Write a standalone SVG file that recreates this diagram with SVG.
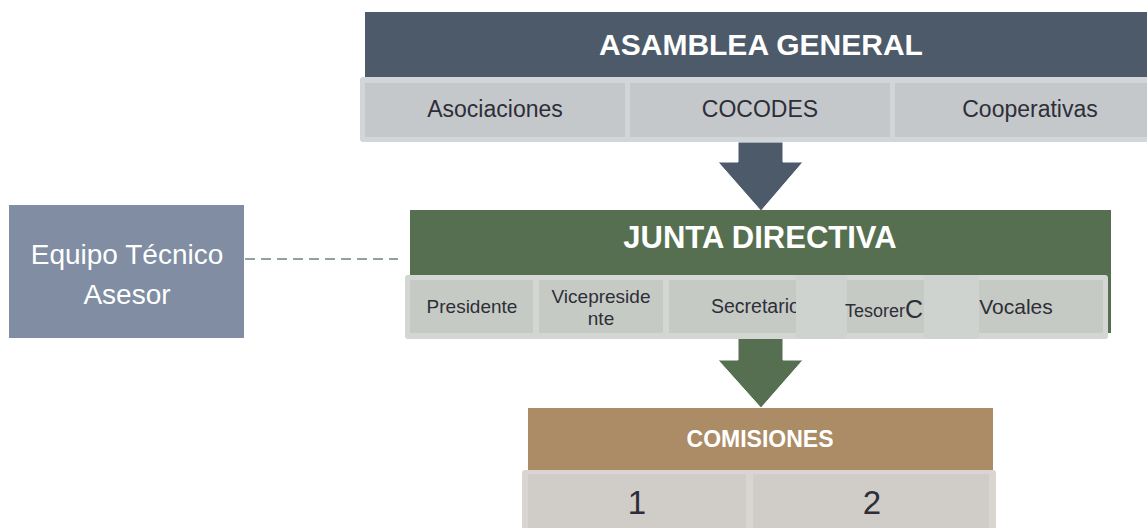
<svg xmlns="http://www.w3.org/2000/svg" width="1147" height="528" viewBox="0 0 1147 528">
<style>
text{font-family:"Liberation Sans",Arial,sans-serif;text-anchor:middle;dominant-baseline:central}
.hd{fill:#ffffff;font-weight:bold}
.lbl{fill:#2e2e38}
.wt{fill:#ffffff}
</style>
<rect width="1147" height="528" fill="#ffffff"/>
<g id="connectors">
<line x1="245" y1="259" x2="398" y2="259" stroke="#8fa39a" stroke-width="2" stroke-dasharray="10 6"/>
<polygon points="738,142 783,142 783,162 803,162 761,211 718,162 738,162" fill="#4d5a6a" stroke="#ffffff" stroke-width="1"/>
<polygon points="738,338 783,338 783,360 803,360 761,408 718,360 738,360" fill="#556f50" stroke="#ffffff" stroke-width="1"/>
</g>
<g id="asamblea">
<rect x="365" y="12" width="782" height="65" fill="#4d5a6a"/>
<text class="hd" x="761" y="44" font-size="30">ASAMBLEA GENERAL</text>
<rect x="360" y="77" width="792" height="65" rx="3" fill="#d3d6d8"/>
<rect x="365" y="83" width="260" height="54" fill="#c4c8cb"/>
<rect x="630" y="83" width="260" height="54" fill="#c4c8cb"/>
<rect x="895" y="83" width="260" height="54" fill="#c4c8cb"/>
<text class="lbl" x="495" y="109" font-size="23">Asociaciones</text>
<text class="lbl" x="760" y="109" font-size="23">COCODES</text>
<text class="lbl" x="1030" y="109" font-size="23">Cooperativas</text>
</g>
<g id="equipo">
<rect x="9" y="205" width="235" height="133" fill="#808da2"/>
<text class="wt" x="127" y="254" font-size="28">Equipo Técnico</text>
<text class="wt" x="127" y="294" font-size="28">Asesor</text>
</g>
<g id="junta">
<rect x="410" y="210" width="701" height="123" fill="#556f50"/>
<text class="hd" x="760" y="237" font-size="31">JUNTA DIRECTIVA</text>
<rect x="405" y="275" width="703" height="64" rx="3" fill="#d3d6d2"/>
<rect x="410" y="280" width="123" height="53" fill="#c6cac4"/>
<rect x="539" y="280" width="124" height="53" fill="#c6cac4"/>
<rect x="669" y="280" width="434" height="53" fill="#c6cac4"/>
<text class="lbl" x="472" y="306" font-size="19">Presidente</text>
<text class="lbl" x="601" y="296" font-size="19">Vicepreside</text>
<text class="lbl" x="601" y="318" font-size="19">nte</text>
<text class="lbl" x="711" y="306" font-size="19.5" style="text-anchor:start">Secretario</text>
<rect x="796" y="275" width="51" height="64" rx="3" fill="#cfd3d0"/>
<text class="lbl" x="845" y="311" font-size="18" style="text-anchor:start">Tesorer<tspan font-size="25" dy="-2">C</tspan></text>
<rect x="924" y="275" width="55" height="64" rx="3" fill="#cfd3d0"/>
<text class="lbl" x="1016" y="306" font-size="21">Vocales</text>
</g>
<g id="comisiones">
<rect x="528" y="408" width="465" height="62" fill="#ab8c66"/>
<text class="hd" x="760" y="439" font-size="23">COMISIONES</text>
<rect x="522" y="470" width="474" height="62" rx="3" fill="#d9d6d2"/>
<rect x="528" y="474" width="218" height="58" fill="#d0cdc8"/>
<rect x="753" y="474" width="236" height="58" fill="#d0cdc8"/>
<text class="lbl" x="637" y="502" font-size="33">1</text>
<text class="lbl" x="872" y="502" font-size="33">2</text>
</g>
</svg>
